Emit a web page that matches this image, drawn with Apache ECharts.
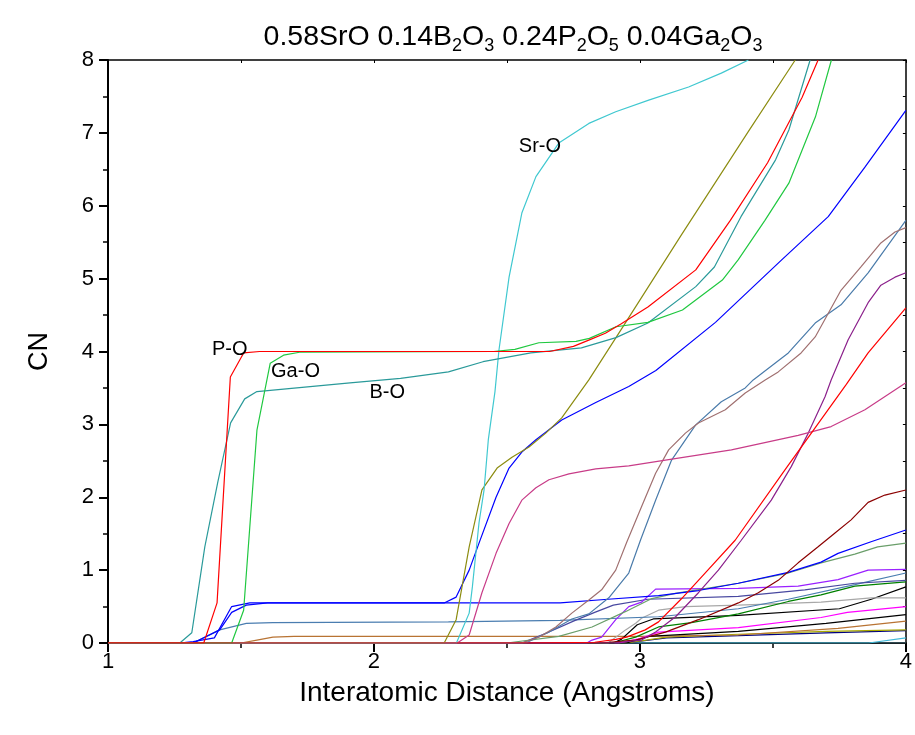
<!DOCTYPE html>
<html>
<head>
<meta charset="utf-8">
<script src="https://cdn.jsdelivr.net/npm/echarts@6/dist/echarts.min.js"></script>
<style>
  html, body { margin: 0; padding: 0; background: #fff; }
  #chart { width: 915px; height: 735px; }
</style>
</head>
<body>
<div id="chart"></div>
<script>
// Cumulative coordination number vs interatomic distance, one curve per atom pair.
// Each curve is a list of [distance (Å), CN] points.

const xTicks = [1, 2, 3, 4];
const yTicks = [0, 1, 2, 3, 4, 5, 6, 7, 8];

const cnPO = [[1.0,0],[1.36,0],[1.41,0.55],[1.46,3.65],[1.51,3.98],[1.57,4.0],[2.66,4.0],[2.75,4.07],[2.81,4.16],[2.87,4.25],[2.93,4.38],[3.03,4.61],[3.21,5.12],[3.34,5.80],[3.48,6.59],[3.61,7.49],[3.67,8.0]];
const cnGaO = [[1.0,0],[1.465,0],[1.51,0.45],[1.56,2.92],[1.61,3.84],[1.66,3.95],[1.72,3.99],[2.45,4.0],[2.53,4.03],[2.62,4.12],[2.76,4.14],[2.81,4.18],[2.91,4.34],[3.03,4.40],[3.16,4.57],[3.31,4.98],[3.37,5.26],[3.47,5.80],[3.56,6.31],[3.66,7.22],[3.72,8.0]];
const cnBO = [[1.0,0],[1.27,0],[1.315,0.14],[1.364,1.32],[1.413,2.21],[1.461,3.02],[1.514,3.35],[1.56,3.45],[1.91,3.57],[2.1,3.63],[2.28,3.72],[2.41,3.86],[2.59,3.98],[2.78,4.05],[2.91,4.19],[3.03,4.39],[3.21,4.89],[3.28,5.16],[3.38,5.85],[3.51,6.63],[3.56,7.04],[3.64,8.0]];
const cnSrO = [[1.0,0],[2.31,0],[2.358,0.41],[2.37,0.77],[2.395,1.65],[2.414,2.10],[2.43,2.79],[2.455,3.45],[2.47,4.02],[2.508,5.02],[2.556,5.90],[2.609,6.40],[2.695,6.86],[2.808,7.13],[2.909,7.29],[3.033,7.45],[3.183,7.63],[3.306,7.82],[3.408,8.0]];
const cnOlive = [[1.0,0],[2.264,0],[2.309,0.32],[2.358,1.32],[2.406,2.10],[2.463,2.40],[2.519,2.55],[2.583,2.69],[2.646,2.88],[2.706,3.09],[2.808,3.61],[2.931,4.31],[3.156,5.6],[3.408,7.02],[3.584,8.0]];
const cnBlueA = [[1.0,0],[1.32,0],[1.42,0.18],[1.465,0.42],[1.52,0.52],[1.6,0.55],[2.264,0.55],[2.309,0.63],[2.358,1.0],[2.395,1.37],[2.459,2.0],[2.508,2.40],[2.556,2.62],[2.609,2.79],[2.706,3.06],[2.834,3.30],[2.958,3.52],[3.06,3.74],[3.284,4.40],[3.531,5.25],[3.708,5.85],[3.846,6.53],[4.0,7.31]];
const cnPink = [[1.0,0],[2.313,0],[2.358,0.11],[2.406,0.69],[2.459,1.23],[2.508,1.64],[2.556,1.96],[2.609,2.13],[2.658,2.24],[2.733,2.32],[2.834,2.39],[2.958,2.43],[3.096,2.51],[3.344,2.65],[3.595,2.85],[3.719,2.97],[3.846,3.2],[4.0,3.57]];
const cnRosy = [[1.0,0],[2.556,0],[2.62,0.08],[2.684,0.22],[2.744,0.41],[2.808,0.59],[2.856,0.73],[2.909,1.0],[2.95,1.38],[3.006,1.87],[3.059,2.33],[3.108,2.65],[3.171,2.88],[3.22,3.02],[3.321,3.2],[3.396,3.43],[3.471,3.61],[3.52,3.72],[3.606,3.98],[3.659,4.2],[3.756,4.84],[3.831,5.16],[3.906,5.49],[3.959,5.64],[4.0,5.70]];
const cnSteel = [[1.0,0],[2.571,0],[2.658,0.15],[2.744,0.33],[2.808,0.40],[2.883,0.62],[2.958,0.96],[3.002,1.41],[3.059,1.96],[3.119,2.51],[3.209,2.99],[3.306,3.31],[3.396,3.50],[3.426,3.61],[3.558,3.98],[3.659,4.39],[3.756,4.64],[3.858,5.08],[4.0,5.80]];
const cnPurple = [[1.0,0],[2.9,0],[3.006,0.04],[3.059,0.15],[3.134,0.36],[3.22,0.69],[3.295,1.0],[3.381,1.41],[3.494,1.96],[3.569,2.42],[3.633,2.88],[3.696,3.38],[3.719,3.61],[3.783,4.16],[3.858,4.67],[3.906,4.91],[3.959,5.02],[4.0,5.08]];
const cnRed2 = [[1.0,0],[2.6,0],[2.83,0.01],[2.91,0.05],[2.95,0.08],[3.02,0.18],[3.07,0.29],[3.157,0.61],[3.245,0.96],[3.358,1.41],[3.55,2.4],[3.776,3.55],[3.858,3.98],[4.0,4.6]];
const cnDarkRed = [[1.0,0],[2.85,0],[2.984,0.04],[3.096,0.15],[3.22,0.32],[3.37,0.55],[3.445,0.69],[3.52,0.86],[3.595,1.1],[3.67,1.32],[3.73,1.5],[3.794,1.69],[3.858,1.93],[3.921,2.03],[4.0,2.10]];
const cnBlueB = [[1.0,0],[1.27,0],[1.32,0.02],[1.4,0.07],[1.465,0.5],[1.533,0.55],[2.7,0.55],[2.88,0.6],[3.07,0.65],[3.22,0.72],[3.37,0.82],[3.558,0.97],[3.681,1.11],[3.745,1.23],[3.869,1.39],[4.0,1.55]];
const cnSeaGreen = [[1.0,0],[2.5,0],[2.695,0.09],[2.82,0.22],[2.945,0.43],[3.045,0.61],[3.133,0.68],[3.37,0.82],[3.558,0.96],[3.681,1.1],[3.808,1.22],[3.894,1.32],[4.0,1.37]];
const cnViolet = [[1.0,0],[2.8,0],[2.82,0.04],[2.856,0.08],[2.909,0.32],[2.958,0.5],[3.006,0.56],[3.059,0.74],[3.37,0.75],[3.595,0.78],[3.745,0.87],[3.858,1.0],[4.0,1.01]];
const cnSlate = [[1.0,0],[2.556,0],[2.658,0.15],[2.75,0.3],[2.83,0.42],[2.9,0.52],[3.03,0.6],[3.37,0.64],[3.62,0.73],[3.808,0.82],[4.0,0.86]];
const cnSteel2 = [[1.0,0],[1.32,0],[1.42,0.18],[1.52,0.27],[1.62,0.28],[2.28,0.29],[2.7,0.31],[3.07,0.36],[3.37,0.47],[3.558,0.6],[3.808,0.8],[4.0,0.96]];
const cnGreen = [[1.0,0],[2.9,0],[2.984,0.08],[3.07,0.22],[3.194,0.28],[3.37,0.4],[3.558,0.57],[3.681,0.66],[3.808,0.78],[4.0,0.84]];
const cnGray = [[1.0,0],[2.88,0],[2.946,0.18],[2.984,0.27],[3.006,0.34],[3.07,0.45],[3.171,0.5],[3.37,0.52],[3.681,0.56],[3.87,0.62],[4.0,0.62]];
const cnBlack = [[1.0,0],[2.9,0],[2.93,0.05],[2.99,0.25],[3.05,0.33],[3.37,0.38],[3.75,0.47],[3.87,0.6],[4.0,0.77]];
const cnMagenta = [[1.0,0],[2.92,0],[3.0,0.06],[3.07,0.15],[3.37,0.21],[3.681,0.35],[3.78,0.42],[4.0,0.50]];
const cnBlack2 = [[1.0,0],[2.95,0],[3.033,0.09],[3.37,0.16],[3.7,0.27],[4.0,0.39]];
const cnBrown = [[1.0,0],[1.5,0],[1.56,0.04],[1.62,0.08],[1.7,0.09],[3.0,0.09],[3.37,0.11],[3.745,0.2],[4.0,0.30]];
const cnYellow = [[1.0,0],[2.95,0],[3.1,0.08],[3.37,0.12],[3.7,0.16],[4.0,0.18]];
const cnNavy = [[1.0,0],[2.95,0],[3.1,0.07],[3.37,0.1],[3.7,0.14],[4.0,0.17]];
const cnCyan2 = [[1.0,0],[3.86,0],[4.0,0.07]];
const cnBase = [[1.0,0],[4.0,0]];

// Pair labels: [text, distance, CN]
const pairLabels = [
  ['P-O', 1.4575, 4.03],
  ['Ga-O', 1.705, 3.73],
  ['B-O', 2.05, 3.44],
  ['Sr-O', 2.624, 6.82]
];

const FONT = "'Liberation Sans', Arial, Helvetica, sans-serif";

const curves = [
  { data: cnBase, color: '#5F8FA0' },
  { data: cnCyan2, color: '#40B8D8' },
  { data: cnNavy, color: '#000080' },
  { data: cnYellow, color: '#A8A800' },
  { data: cnBrown, color: '#B87333' },
  { data: cnBlack2, color: '#000000' },
  { data: cnMagenta, color: '#FF00FF' },
  { data: cnBlack, color: '#000000' },
  { data: cnGray, color: '#A8A8A8' },
  { data: cnGreen, color: '#008000' },
  { data: cnSteel2, color: '#4A7DB0' },
  { data: cnSlate, color: '#4848A0' },
  { data: cnViolet, color: '#9A20FF' },
  { data: cnSeaGreen, color: '#6A9E6A' },
  { data: cnBlueB, color: '#0000FF' },
  { data: cnDarkRed, color: '#8B0000' },
  { data: cnPurple, color: '#8B208B' },
  { data: cnSteel, color: '#4A7BAA' },
  { data: cnRosy, color: '#A07070' },
  { data: cnPink, color: '#C83C88' },
  { data: cnBlueA, color: '#0000FF' },
  { data: cnOlive, color: '#8C8C10' },
  { data: cnSrO, color: '#40C8D0', label: 'Sr-O' },
  { data: cnBO, color: '#2A9A9A', label: 'B-O' },
  { data: cnGaO, color: '#20C840', label: 'Ga-O' },
  { data: cnPO, color: '#FF0000', label: 'P-O' },
  { data: cnRed2, color: '#FF0000' }
];

const series = curves.map(function (c) {
  const s = {
    type: 'line',
    data: c.data,
    showSymbol: false,
    symbol: 'none',
    silent: true,
    lineStyle: { color: c.color, width: 1.2 },
    z: 2
  };
  if (c.label) {
    const lab = pairLabels.find(function (p) { return p[0] === c.label; });
    s.markPoint = {
      symbol: 'circle',
      symbolSize: 0,
      silent: true,
      data: [{
        coord: [lab[1], lab[2]],
        label: {
          show: true, position: 'inside', formatter: lab[0],
          color: '#000', fontSize: 20, fontFamily: FONT
        }
      }]
    };
  }
  return s;
});

const chart = echarts.init(document.getElementById('chart'), null, { renderer: 'canvas' });

chart.setOption({
  animation: false,
  backgroundColor: '#ffffff',
  title: {
    text: '0.58SrO 0.14B{s|2}O{s|3} 0.24P{s|2}O{s|5} 0.04Ga{s|2}O{s|3}',
    left: 508,
    textAlign: 'center',
    top: 15,
    textStyle: {
      fontFamily: FONT, fontSize: 28.5, fontWeight: 'normal', color: '#000',
      rich: {
        s: { fontFamily: FONT, fontSize: 18, color: '#000', verticalAlign: 'bottom', padding: [17, 0, 0, 0] }
      }
    }
  },
  grid: { left: 108, right: 7, top: 60, bottom: 92, containLabel: false },
  xAxis: [
    {
      type: 'value', min: 1, max: 4, interval: 1, position: 'bottom',
      name: 'Interatomic Distance (Angstroms)', nameLocation: 'middle', nameGap: 36,
      nameTextStyle: { fontFamily: FONT, fontSize: 28, color: '#000' },
      axisLine: { show: true, onZero: false, lineStyle: { color: '#000', width: 2 } },
      axisTick: { show: true, inside: false, length: 9, lineStyle: { color: '#000', width: 2 } },
      minorTick: { show: true, splitNumber: 2, length: 5, lineStyle: { color: '#000', width: 1.5 } },
      axisLabel: { fontFamily: FONT, fontSize: 22, color: '#000', margin: 8,
        formatter: function (v) { return xTicks.indexOf(v) >= 0 ? String(v) : ''; } },
      splitLine: { show: false }
    },
    {
      type: 'value', min: 1, max: 4, interval: 0.5, position: 'top',
      axisLine: { show: true, onZero: false, lineStyle: { color: '#000', width: 1.5 } },
      axisTick: { show: true, inside: true, length: 3, lineStyle: { color: '#000', width: 1 } },
      axisLabel: { show: false },
      splitLine: { show: false }
    }
  ],
  yAxis: [
    {
      type: 'value', min: 0, max: 8, interval: 1, position: 'left',
      name: 'CN', nameLocation: 'middle', nameGap: 55,
      nameTextStyle: { fontFamily: FONT, fontSize: 27, color: '#000' },
      axisLine: { show: true, onZero: false, lineStyle: { color: '#000', width: 2 } },
      axisTick: { show: true, inside: false, length: 9, lineStyle: { color: '#000', width: 2 } },
      minorTick: { show: true, splitNumber: 2, length: 5, lineStyle: { color: '#000', width: 1.5 } },
      axisLabel: { fontFamily: FONT, fontSize: 22, color: '#000', margin: 14,
        formatter: function (v) { return yTicks.indexOf(v) >= 0 ? String(v) : ''; } },
      splitLine: { show: false }
    },
    {
      type: 'value', min: 0, max: 8, interval: 0.5, position: 'right',
      axisLine: { show: true, onZero: false, lineStyle: { color: '#000', width: 1.5 } },
      axisTick: { show: true, inside: true, length: 3, lineStyle: { color: '#000', width: 1 } },
      axisLabel: { show: false },
      splitLine: { show: false }
    }
  ],
  series: series
});
</script>
</body>
</html>
